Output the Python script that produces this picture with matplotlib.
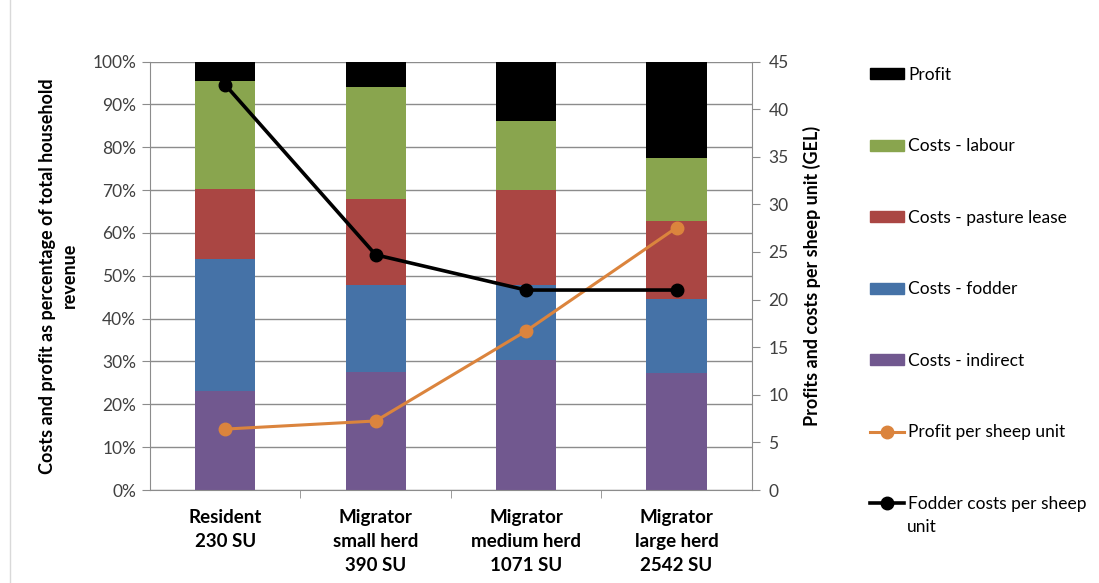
import matplotlib
matplotlib.use("Agg")
import matplotlib.pyplot as plt
from matplotlib.lines import Line2D
from matplotlib.patches import Patch
import numpy as np

plt.rcParams['font.family'] = ['Lato', 'DejaVu Sans']

categories = ['Resident\n230 SU', 'Migrator\nsmall herd\n390 SU',
              'Migrator\nmedium herd\n1071 SU', 'Migrator\nlarge herd\n2542 SU']

# shares of total household revenue (%)
costs_indirect = [23.0, 27.6, 30.4, 27.4]
costs_fodder = [30.9, 20.3, 17.5, 17.1]
costs_pasture = [16.3, 20.0, 22.0, 18.2]
costs_labour = [25.3, 26.1, 16.3, 14.8]
profit = [4.5, 6.0, 13.8, 22.5]

# per sheep unit (GEL)
profit_per_su = [6.4, 7.25, 16.7, 27.55]
fodder_per_su = [42.55, 24.7, 21.0, 21.0]

stack = [('Costs - indirect', costs_indirect, '#71588F'),
         ('Costs - fodder', costs_fodder, '#4572A7'),
         ('Costs - pasture lease', costs_pasture, '#AA4643'),
         ('Costs - labour', costs_labour, '#89A54E'),
         ('Profit', profit, '#000000')]

grid_col = '#8c8c8c'

fig = plt.figure(figsize=(10.99, 5.83), dpi=100)
ax = fig.add_axes([0.1365, 0.1595, 0.5475, 0.735])
x = np.arange(len(categories))

bottom = np.zeros(len(categories))
for name, vals, col in stack:
    ax.bar(x, vals, 0.4, bottom=bottom, color=col, zorder=2)
    bottom += np.array(vals)

ax.set_xlim(-0.5, 3.5)
ax.set_ylim(0, 100)
ax.set_yticks(np.arange(0, 101, 10))
ax.set_yticklabels([f'{v}%' for v in range(0, 101, 10)])
ax.yaxis.grid(True, color=grid_col, lw=1, zorder=0)
ax.set_axisbelow(True)
ax.set_xticks(x)
ax.set_xticklabels(categories, fontweight='bold', fontsize=13.5, linespacing=1.5)
ax.set_xticks([0.5, 1.5, 2.5], minor=True)
ax.tick_params(axis='x', which='major', length=0, pad=14)
ax.tick_params(axis='x', which='minor', length=6, color=grid_col)
ax.tick_params(axis='y', length=6, color=grid_col, labelsize=12.5, labelcolor='#404040', pad=4)
for s in ['top', 'right']:
    ax.spines[s].set_visible(False)
for s in ['left', 'bottom']:
    ax.spines[s].set_color(grid_col)
ax.set_ylabel('Costs and profit as percentage of total household\nrevenue',
              fontweight='bold', fontsize=13, labelpad=10, linespacing=1.4)

ax2 = ax.twinx()
ax2.plot(x, profit_per_su, color='#DB843D', lw=2.2, marker='o', ms=9, zorder=3)
ax2.plot(x, fodder_per_su, color='#000000', lw=2.6, marker='o', ms=9, zorder=3)
ax2.set_ylim(0, 45)
ax2.set_yticks(np.arange(0, 46, 5))
ax2.tick_params(axis='y', length=6, color=grid_col, labelsize=12.5, labelcolor='#404040', pad=6)
for s in ['top', 'left', 'bottom']:
    ax2.spines[s].set_visible(False)
ax2.spines['right'].set_color(grid_col)
ax2.set_ylabel('Profits and costs per sheep unit (GEL)', fontweight='bold',
               fontsize=13, labelpad=10)

handles = [Patch(color=col, label=name) for name, vals, col in stack[::-1]]
handles.append(Line2D([], [], color='#DB843D', lw=2.2, marker='o', ms=9,
                      label='Profit per sheep unit'))
handles.append(Line2D([], [], color='#000000', lw=2.6, marker='o', ms=9,
                      label='Fodder costs per sheep'))
fig.legend(handles=handles, loc='upper left', bbox_to_anchor=(0.7835, 0.9005),
           frameon=False, fontsize=12.5, labelspacing=3.2, handlelength=2.0,
           handleheight=0.6, handletextpad=0.2, borderpad=0)
# wrapped second line of the last legend entry
fig.text(0.8255, 1 - 527 / 583, 'unit', fontsize=12.5, va='center', ha='left')

fig.add_artist(Line2D([0.009, 0.009], [0, 1], color='#d9d9d9', lw=1))

fig.savefig('out.png', dpi=100)
